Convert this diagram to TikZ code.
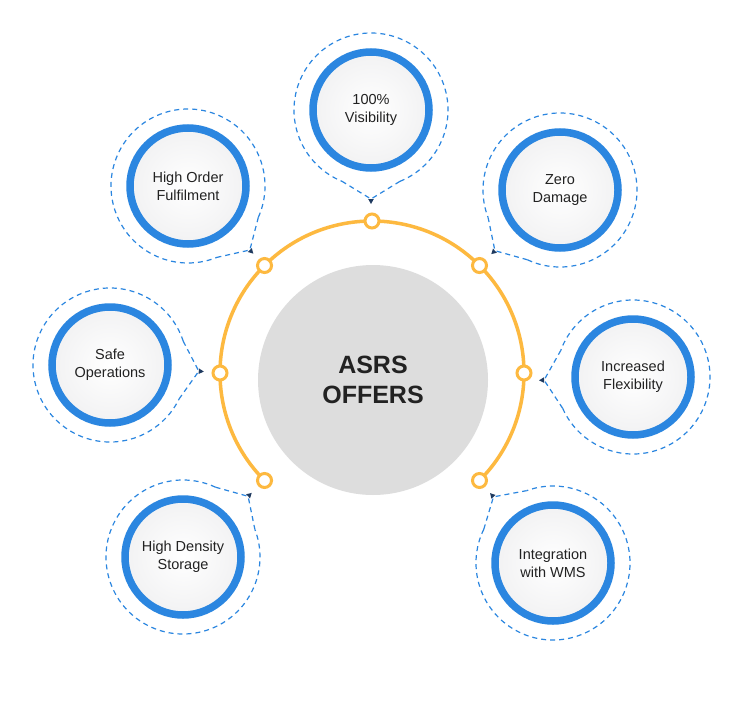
\documentclass[tikz,border=0pt]{standalone}
\usepackage{fontspec}
\setmainfont{Liberation Sans}
\usetikzlibrary{arrows.meta,calc}
\definecolor{blu}{HTML}{2B86E0}
\definecolor{org}{HTML}{FDB940}
\definecolor{gry}{HTML}{DDDDDD}
\definecolor{txt}{HTML}{222222}
\definecolor{navy}{HTML}{1F3A5F}
\tikzset{
  ring/.style={circle,draw=blu,line width=7.5pt,minimum size=116pt,inner color=white,outer color=blue!4!gray!10,text=txt,font=\fontsize{14.5}{18}\selectfont,align=center},
  dot/.style={circle,draw=org,line width=3pt,fill=white,minimum size=14pt,inner sep=0pt},
  dsh/.style={blu,line width=1.2pt,dash pattern=on 5pt off 4pt},
}
\newcommand{\sat}[5]{% name, x, y, angle, text
  \node[ring] (#1) at (#2,-#3) {#5};
  \draw[dsh] ($(#1.center)+(#4+22:77)$) arc[start angle=#4+22,end angle=#4+338,radius=77];
  \coordinate (#1t) at ($(#1.center)+(#4:89)$);
  \draw[dsh] ($(#1.center)+(#4+22:77)$) -- (#1t) -- ($(#1.center)+(#4-22:77)$);
  \fill[navy] ($(#1t)+(#4:5)$) -- ($(#1t)+(#4+90:2.8)$) -- ($(#1t)+(#4-90:2.8)$) -- cycle;
}
\begin{document}
\begin{tikzpicture}[x=1pt,y=1pt]
\useasboundingbox[fill=white] (0,0) rectangle (736,-709);
\coordinate (c) at (372,-373);
\node[circle,fill=gry,minimum size=230pt,inner sep=0pt,font=\bfseries\fontsize{25}{30}\selectfont,align=center,text=txt] (main) at (373,-380) {ASRS\\OFFERS};
\draw[org,line width=3.5pt] (c)++(-45:152) arc[start angle=-45,end angle=225,radius=152];
\foreach \a/\n in {90/d1,135/d2,45/d3,180/d4,0/d5,225/d6,-45/d7}
  \node[dot] (\n) at ($(c)+(\a:152)$) {};
\sat{s1}{371}{110}{-90}{100\%\\Visibility}
\sat{s2}{188}{186}{-46}{High Order\\Fulfilment}
\sat{s3}{560}{190}{-137}{Zero\\Damage}
\sat{s4}{110}{365}{-4}{Safe\\Operations}
\sat{s5}{633}{377}{182}{Increased\\Flexibility}
\sat{s6}{183}{557}{43}{High Density\\Storage}
\sat{s7}{553}{563}{132}{Integration\\with WMS}
\end{tikzpicture}
\end{document}
